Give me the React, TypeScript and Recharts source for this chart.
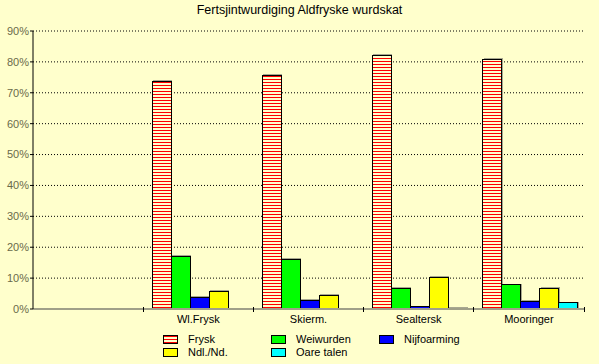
import { Bar, BarChart, CartesianGrid, XAxis, YAxis } from "recharts";

const dialects = ["", "Wl.Frysk", "Skierm.", "Sealtersk", "Mooringer"];
const frysk = [null, 73.8, 75.7, 82.1, 80.8];
const weiwurden = [null, 17.1, 16.1, 6.7, 7.8];
const nijfoarming = [null, 3.8, 2.9, 0.7, 2.5];
const ndlNd = [null, 5.7, 4.5, 10.3, 6.7];
const oareTalen = [null, 0, 0, 0.2, 2.0];
const percentTicks = [0, 10, 20, 30, 40, 50, 60, 70, 80, 90];

const series = [
  { key: "frysk", name: "Frysk", values: frysk, fill: "url(#fryskHatch)", swatch: "hatch" },
  { key: "weiwurden", name: "Weiwurden", values: weiwurden, fill: "#00ff00" },
  { key: "nijfoarming", name: "Nijfoarming", values: nijfoarming, fill: "#0000ff" },
  { key: "ndlNd", name: "Ndl./Nd.", values: ndlNd, fill: "#ffff00" },
  { key: "oareTalen", name: "Oare talen", values: oareTalen, fill: "#00ffff" },
];

const chartData = dialects.map((name, i) => {
  const row: Record<string, string | number | null> = { name };
  series.forEach((s) => (row[s.key] = s.values[i]));
  return row;
});

const BG = "#ffffcc";
const FONT = "'Liberation Sans', Arial, sans-serif";

function CategoryTick(props: { x?: number; y?: number; payload?: { value?: string; offset?: number } }) {
  const x = Number(props.x ?? 0);
  const y = Number(props.y ?? 0);
  const half = props.payload?.offset || 55;
  return (
    <g>
      <line x1={x + half} x2={x + half} y1={y - 2} y2={y + 3} stroke="#000" shapeRendering="crispEdges" />
      <text x={x} y={y + 14} textAnchor="middle" fill="#000" fontSize={11} fontFamily={FONT}>
        {props.payload?.value}
      </text>
    </g>
  );
}

function BarShape(props: { x?: number; y?: number; width?: number; height?: number; fill?: string }) {
  const { x = 0, y = 0, width = 0, height = 0, fill } = props;
  if (height <= 0) return <g />;
  return (
    <g shapeRendering="crispEdges">
      <rect x={x + 1} y={y - 1} width={width} height={height} fill="#a8a890" />
      <rect x={x} y={y} width={width} height={height} fill={fill} stroke="#000" strokeWidth={1} />
    </g>
  );
}

export default function App() {
  return (
    <div style={{ position: "fixed", left: 0, top: 0, width: 599, height: 364, background: BG, fontFamily: FONT }}>
      <div style={{ position: "absolute", top: 3, left: 0, width: 599, textAlign: "center", fontSize: 12.5, color: "#000" }}>
        Fertsjintwurdiging Aldfryske wurdskat
      </div>
      <BarChart
        width={599}
        height={364}
        data={chartData}
        margin={{ top: 31, right: 15, left: 0, bottom: 35 }}
        barGap={0}
        barCategoryGap="8%"
      >
        <defs>
          <pattern id="fryskHatch" width="4" height="3" patternUnits="userSpaceOnUse">
            <rect width="4" height="3" fill={BG} />
            <rect width="4" height="1" y="1" fill="#ff0000" />
          </pattern>
        </defs>
        <CartesianGrid vertical={false} stroke="#000" strokeDasharray="1 2" horizontalCoordinatesGenerator={undefined} />
        <XAxis
          dataKey="name"
          height={20}
          tickSize={0}
          tickMargin={0}
          tick={CategoryTick}
          axisLine={{ stroke: "#a0a088", strokeWidth: 2 }}
          interval={0}
        />
        <YAxis
          width={33}
          domain={[0, 90]}
          ticks={percentTicks}
          tickFormatter={(v) => `${v}%`}
          tick={{ fill: "#6a6a4a", fontSize: 11, fontFamily: FONT }}
          tickSize={3}
          tickMargin={1}
          tickLine={{ stroke: "#000" }}
          axisLine={{ stroke: "#000" }}
          interval={0}
        />
        {series.map((s) => (
          <Bar key={s.key} dataKey={s.key} name={s.name} fill={s.fill} shape={BarShape} isAnimationActive={false} />
        ))}
      </BarChart>
      {series.map((s, i) => {
        const col = i % 3;
        const row = Math.floor(i / 3);
        return (
          <div
            key={s.key}
            style={{ position: "absolute", left: 163 + col * 108, top: 333 + row * 13, height: 12, display: "flex", alignItems: "center", fontSize: 11, color: "#000" }}
          >
            <svg width={15} height={9} style={{ display: "block" }}>
              <rect x={0.5} y={0.5} width={14} height={8} fill={s.fill} stroke="#000" />
            </svg>
            <span style={{ marginLeft: 10 }}>{s.name}</span>
          </div>
        );
      })}
    </div>
  );
}
